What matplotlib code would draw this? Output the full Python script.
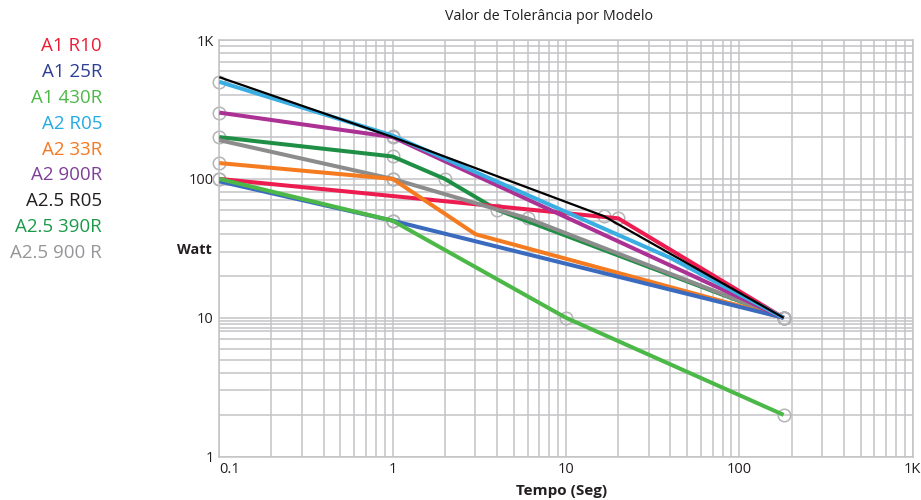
import matplotlib
matplotlib.use("Agg")
import matplotlib.pyplot as plt
from matplotlib.ticker import FixedLocator, NullFormatter
import numpy as np

plt.rcParams['font.family'] = ['Open Sans', 'DejaVu Sans']

# ---- data ----
names = ["A1 R10", "A1 25R", "A1 430R", "A2 R05", "A2 33R", "A2 900R",
         "A2.5 R05", "A2.5 390R", "A2.5 900 R"]

x_a1_r10 = [0.1, 20, 180]
y_a1_r10 = [100, 52, 10]

x_a1_25r = [0.1, 1, 180]
y_a1_25r = [96, 50, 10]

x_a1_430r = [0.1, 1, 10, 180]
y_a1_430r = [100, 50, 10, 2]

x_a2_r05 = [0.1, 1, 40, 180]
y_a2_r05 = [500, 205, 27, 10]

x_a2_33r = [0.1, 1, 3, 180]
y_a2_33r = [130, 100, 40, 10]

x_a2_900r = [0.1, 1, 180]
y_a2_900r = [300, 200, 10]

x_a25_r05 = [0.1, 1, 16.5, 180]
y_a25_r05 = [540, 200, 54, 10]

x_a25_390r = [0.1, 1, 2, 4, 180]
y_a25_390r = [200, 145, 100, 60, 10]

x_a25_900r = [0.1, 1, 6, 180]
y_a25_900r = [190, 100, 52, 10]

x_ticks = [0.1, 1, 10, 100, 1000]
x_ticklabels = ["0.1", "1", "10", "100", "1K"]
y_ticks = [1, 10, 100, 1000]
y_ticklabels = ["1", "10", "100", "1K"]

title = "Valor de Tolerância por Modelo"
xlabel = "Tempo (Seg)"
ylabel = "Watt"

# ---- styles ----
series = [
    # name, x, y, line color, legend color, lw, marked vertices, zorder
    ("A2.5 390R", x_a25_390r, y_a25_390r, "#1f8f45", "#1b9a4a", 2.9, [0, 1, 2, 3, 4], 3),
    ("A1 R10", x_a1_r10, y_a1_r10, "#ec1c50", "#ed1c36", 2.9, [0, 1, 2], 4),
    ("A2.5 900 R", x_a25_900r, y_a25_900r, "#8c8c8c", "#959699", 2.9, [1, 2, 3], 5),
    ("A2 33R", x_a2_33r, y_a2_33r, "#f47b20", "#f47920", 2.9, [0, 1, 3], 6),
    ("A1 25R", x_a1_25r, y_a1_25r, "#3a6bbf", "#2e3f94", 2.9, [1, 2], 7),
    ("A1 430R", x_a1_430r, y_a1_430r, "#4cb848", "#4cb848", 2.9, [0, 1, 2, 3], 8),
    ("A2 900R", x_a2_900r, y_a2_900r, "#ab3195", "#7f3f98", 2.9, [0, 1, 2], 9),
    ("A2 R05", x_a2_r05, y_a2_r05, "#3aaee3", "#25aae1", 2.9, [0, 1, 3], 10),
    ("A2.5 R05", x_a25_r05, y_a25_r05, "#000000", "#231f20", 1.6, [2, 3], 11),
]

fig = plt.figure(figsize=(9.21, 5.0), dpi=100)
ax = fig.add_axes([0.2381, 0.0866, 0.7529, 0.8334])

grid_c = "#c3c3c6"
ax.set_xscale("log")
ax.set_yscale("log")
ax.set_xlim(0.1, 1000)
ax.set_ylim(1, 1000)

ax.xaxis.set_major_locator(FixedLocator(x_ticks))
ax.yaxis.set_major_locator(FixedLocator(y_ticks))
ax.set_xticklabels(x_ticklabels)
ax.set_yticklabels(y_ticklabels)

xminor = [m * d for d in [0.1, 1, 10, 100] for m in range(2, 10)]
yminor = [m * d for d in [1, 10, 100] for m in range(2, 10)] + [8.5, 9.5]
ax.xaxis.set_minor_locator(FixedLocator(xminor))
ax.yaxis.set_minor_locator(FixedLocator(yminor))
ax.xaxis.set_minor_formatter(NullFormatter())
ax.yaxis.set_minor_formatter(NullFormatter())

ax.grid(True, which="both", color=grid_c, linewidth=1.1)
ax.set_axisbelow(True)
for s in ax.spines.values():
    s.set_color(grid_c)
    s.set_linewidth(1.1)
ax.tick_params(which="both", length=0)
ax.tick_params(axis="x", pad=4, labelsize=10.5, colors="#231f20")
ax.tick_params(axis="y", pad=4, labelsize=10.5, colors="#231f20")
xl = ax.get_xticklabels()
xl[0].set_horizontalalignment("left")

for name, xs, ys, lc, tc, lw, marks, z in series:
    ax.plot(xs, ys, color=lc, linewidth=lw, solid_capstyle="butt",
            solid_joinstyle="miter", zorder=z)
    xm = [xs[i] for i in marks]
    ym = [ys[i] for i in marks]
    ax.plot(xm, ym, linestyle="none", marker="o", markersize=9,
            markerfacecolor="none", markeredgecolor="#b4b4b6",
            markeredgewidth=1.1, zorder=2.5, clip_on=False)

fig.text(549 / 921, 1 - 17 / 500, title, ha="center", va="center",
         fontsize=10.3, color="#231f20")
fig.text(194 / 921, 1 - 250 / 500, ylabel, ha="center", va="center",
         fontsize=10.3, fontweight="bold", color="#231f20")
fig.text(562 / 921, 1 - 491 / 500, xlabel, ha="center", va="center",
         fontsize=11, fontweight="bold", color="#231f20")

# legend text list (top to bottom)
legend_colors = {n: tc for n, _, _, _, tc, _, _, _ in series}
for i, n in enumerate(names):
    yy = 46 + i * 25.9
    fig.text(102 / 921, 1 - yy / 500, n, ha="right", va="center",
             fontsize=13.5, color=legend_colors[n])

fig.savefig("out.png", dpi=100)
